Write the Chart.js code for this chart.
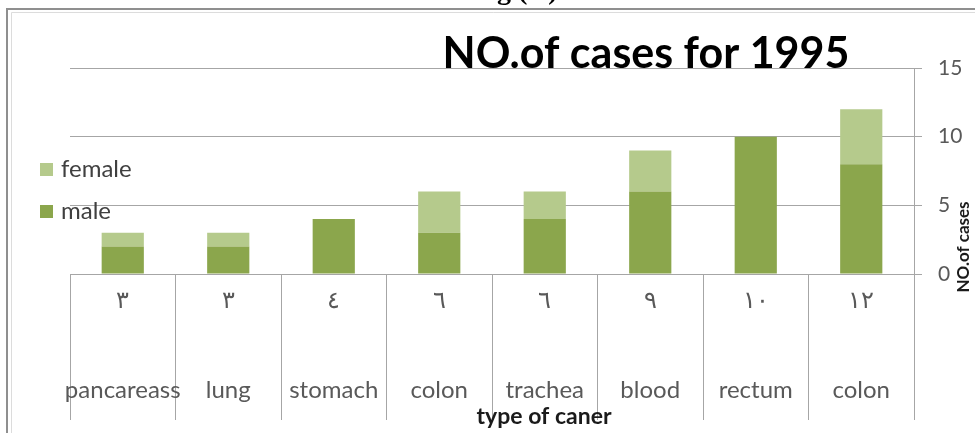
<!DOCTYPE html>
<html>
<head>
<meta charset="utf-8">
<script src="https://cdn.jsdelivr.net/npm/chart.js@4.4.0/dist/chart.umd.min.js"></script>
<style>
html,body{margin:0;padding:0;background:#fff;}
#wrap{width:975px;height:433px;position:relative;}
</style>
</head>
<body>
<div id="wrap"><canvas id="c" width="975" height="433"></canvas></div>
<script>
const categories = ['pancareass', 'lung', 'stomach', 'colon', 'trachea', 'blood', 'rectum', 'colon'];
const totalLabels = ['٣', '٣', '٤', '٦', '٦', '٩', '١٠', '١٢'];
const maleValues = [2, 2, 4, 3, 4, 6, 10, 8];
const femaleValues = [1, 1, 0, 3, 2, 3, 0, 4];
const seriesNames = ['male', 'female'];
const chartTitle = 'NO.of cases for 1995';
const xTitle = 'type of caner';
const yTitle = 'NO.of cases';
const pageHeading = 'g (   )';

const FONT = 'Lato, "Open Sans", sans-serif';

const labels = categories.map((c, i) => [totalLabels[i], c]);

const decorPlugin = {
  id: 'decor',
  beforeDraw(chart) {
    const ctx = chart.ctx;
    ctx.save();
    ctx.fillStyle = '#ffffff';
    ctx.fillRect(0, 0, chart.width, chart.height);
    // frame
    ctx.strokeStyle = '#8f8f8f';
    ctx.lineWidth = 2;
    ctx.beginPath();
    ctx.moveTo(7, chart.height);
    ctx.lineTo(7, 9);
    ctx.lineTo(chart.width, 9);
    ctx.stroke();
    ctx.strokeStyle = '#dcdcdc';
    ctx.lineWidth = 1;
    ctx.beginPath();
    ctx.moveTo(11.5, chart.height);
    ctx.lineTo(11.5, 12.5);
    ctx.lineTo(chart.width, 12.5);
    ctx.stroke();
    // cut-off page heading
    ctx.fillStyle = '#000';
    ctx.font = 'bold 28px "Liberation Serif", serif';
    ctx.textBaseline = 'alphabetic';
    ctx.textAlign = 'left';
    ctx.fillText(pageHeading, 497, -1);
    ctx.restore();
  },
  afterDraw(chart) {
    const ctx = chart.ctx;
    ctx.save();
    // chart title
    ctx.fillStyle = '#000';
    ctx.font = 'bold 43px ' + FONT;
    ctx.textAlign = 'center';
    ctx.textBaseline = 'alphabetic';
    ctx.fillText(chartTitle, 646, 68);
    // legend (reverse order)
    const ds = chart.data.datasets.slice().reverse();
    const ys = [169, 211];
    ctx.font = '24px ' + FONT;
    ctx.textAlign = 'left';
    ctx.textBaseline = 'middle';
    ds.forEach((d, i) => {
      ctx.fillStyle = d.backgroundColor;
      ctx.fillRect(40, ys[i] - 6, 13, 13);
      ctx.fillStyle = '#404040';
      ctx.fillText(d.label, 61, ys[i]);
    });
    // x axis title
    ctx.fillStyle = '#1a1a1a';
    ctx.font = 'bold 23px ' + FONT;
    ctx.textAlign = 'center';
    ctx.textBaseline = 'middle';
    ctx.fillText(xTitle, 544, 417);
    // y axis title
    ctx.translate(964, 247);
    ctx.rotate(-Math.PI / 2);
    ctx.font = 'bold 17px ' + FONT;
    ctx.fillText(yTitle, 0, 0);
    ctx.restore();
  }
};

new Chart(document.getElementById('c'), {
  type: 'bar',
  data: {
    labels: labels,
    datasets: [
      { label: seriesNames[0], data: maleValues, backgroundColor: '#8ba64c', barPercentage: 0.4, categoryPercentage: 1.0 },
      { label: seriesNames[1], data: femaleValues, backgroundColor: '#b5ca8c', barPercentage: 0.4, categoryPercentage: 1.0 }
    ]
  },
  options: {
    responsive: false,
    animation: false,
    devicePixelRatio: 1,
    layout: { padding: { left: 70, top: 68, right: 0, bottom: 0 } },
    plugins: {
      legend: { display: false },
      title: { display: false },
      tooltip: { enabled: false }
    },
    scales: {
      x: {
        stacked: true,
        position: 'bottom',
        grid: { offset: true, drawOnChartArea: false, drawTicks: true, tickLength: 146, color: '#a6a6a6', lineWidth: 1 },
        border: { display: true, color: '#a6a6a6' },
        ticks: {
          color: '#595959',
          font: { family: FONT, size: 24, lineHeight: '90px' },
          padding: -165,
          autoSkip: false,
          maxRotation: 0,
          minRotation: 0
        },
        afterFit(s) { s.height = 159; }
      },
      y: {
        stacked: true,
        position: 'right',
        min: 0,
        max: 15,
        ticks: { stepSize: 5, color: '#595959', font: { family: FONT, size: 21 }, padding: 16 },
        grid: { color: '#a6a6a6', tickLength: 8, drawTicks: true },
        border: { display: true, color: '#a6a6a6' },
        afterFit(s) { s.width = 61; }
      }
    }
  },
  plugins: [decorPlugin]
});
</script>
</body>
</html>
